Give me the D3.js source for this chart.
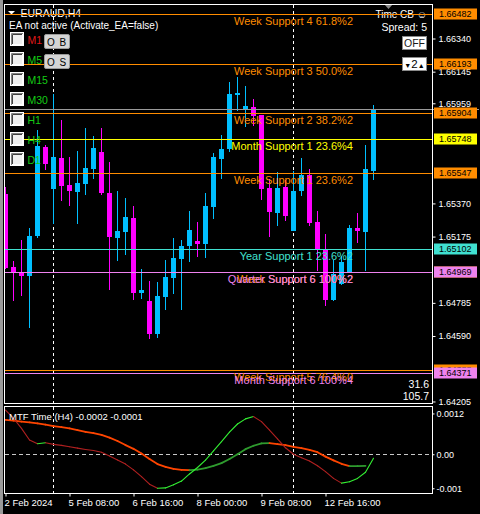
<!DOCTYPE html>
<html><head><meta charset="utf-8">
<script src="https://cdn.jsdelivr.net/npm/d3@7/dist/d3.min.js"></script>
<style>
html,body{margin:0;padding:0;background:#000;overflow:hidden}
svg{display:block}
text{font-family:"Liberation Sans",Arial,sans-serif}
</style></head><body>
<svg id="c" width="480" height="514"></svg>
<script>
// ---------------- DATA ----------------
const symbolTitle = "EURAUD,H4";
const barTimes = [
 "2024.02.02 00:00","2024.02.02 04:00","2024.02.02 08:00","2024.02.02 12:00","2024.02.02 16:00","2024.02.02 20:00",
 "2024.02.05 00:00","2024.02.05 04:00","2024.02.05 08:00","2024.02.05 12:00","2024.02.05 16:00","2024.02.05 20:00",
 "2024.02.06 00:00","2024.02.06 04:00","2024.02.06 08:00","2024.02.06 12:00","2024.02.06 16:00","2024.02.06 20:00",
 "2024.02.07 00:00","2024.02.07 04:00","2024.02.07 08:00","2024.02.07 12:00","2024.02.07 16:00","2024.02.07 20:00",
 "2024.02.08 00:00","2024.02.08 04:00","2024.02.08 08:00","2024.02.08 12:00","2024.02.08 16:00","2024.02.08 20:00",
 "2024.02.09 00:00","2024.02.09 04:00","2024.02.09 08:00","2024.02.09 12:00","2024.02.09 16:00","2024.02.09 20:00",
 "2024.02.12 00:00","2024.02.12 04:00","2024.02.12 08:00","2024.02.12 12:00","2024.02.12 16:00","2024.02.12 20:00",
 "2024.02.13 00:00","2024.02.13 04:00","2024.02.13 08:00","2024.02.13 12:00","2024.02.13 16:00"
];
const opens  = [1.65425,1.64996,1.64967,1.64943,1.65178,1.65702,1.65455,1.65637,1.65478,1.65437,1.65484,1.65572,1.65672,1.65431,1.65167,1.65202,1.65284,1.64843,1.64796,1.64602,1.64820,1.64931,1.65043,1.65120,1.65149,1.65131,1.65349,1.65631,1.65690,1.66008,1.65925,1.65937,1.65890,1.65461,1.65314,1.65467,1.65208,1.65443,1.65537,1.65261,1.65102,1.64802,1.64896,1.64967,1.65226,1.65202,1.65561];
const highs  = [1.65467,1.65031,1.65155,1.65226,1.65802,1.65714,1.66013,1.65861,1.65643,1.65678,1.65813,1.65766,1.65813,1.65614,1.65443,1.65402,1.65355,1.64984,1.64914,1.64908,1.65037,1.65167,1.65155,1.65325,1.65261,1.65431,1.65666,1.65772,1.66084,1.66113,1.66060,1.65984,1.65890,1.65514,1.65555,1.65508,1.65561,1.65637,1.65572,1.65325,1.65190,1.65037,1.65061,1.65243,1.65314,1.65714,1.65949];
const lows   = [1.64985,1.64796,1.64826,1.64638,1.65167,1.65567,1.65249,1.65384,1.65355,1.65249,1.65420,1.65514,1.65420,1.64861,1.65031,1.65067,1.64802,1.64808,1.64573,1.64579,1.64743,1.64837,1.64743,1.65025,1.65055,1.65049,1.65278,1.65514,1.65672,1.65913,1.65819,1.65825,1.65390,1.65173,1.65237,1.65267,1.65206,1.65414,1.65237,1.64973,1.64767,1.64796,1.64890,1.64965,1.65137,1.64973,1.65508];
const closes = [1.64990,1.64961,1.64943,1.65178,1.65708,1.65602,1.65643,1.65472,1.65443,1.65490,1.65578,1.65696,1.65431,1.65173,1.65208,1.65290,1.64843,1.64861,1.64602,1.64826,1.64937,1.65049,1.65120,1.65214,1.65131,1.65355,1.65643,1.65690,1.66013,1.66019,1.65943,1.65884,1.65455,1.65320,1.65461,1.65296,1.65443,1.65537,1.65255,1.65102,1.64802,1.64955,1.65025,1.65226,1.65208,1.65572,1.65925];
const bidPrice = 1.65925;

const levelNames  = ["Week Support 4 61.8%2","Week Support 3 50.0%2","Week Support 2 38.2%2","Month Support 1 23.6%4","Week Support 1 23.6%2","Year Support 1 23.6%2","Week Support 6 100%2","Quarter Support 6 100%2","Week Support 5 76.4%0","Month Support 6 100%4"];
const levelPrices = [1.66482,1.66193,1.65904,1.65748,1.65547,1.65102,1.64969,1.64969,1.64388,1.64371];

const priceTicks = [1.66340,1.66145,1.65959,1.65370,1.65175,1.64785,1.64590,1.64205];

const fastLine = [0.00130,0.00106,0.00076,0.00042,0.00031,0.00034,0.00029,0.00026,0.00022,0.00018,0.00014,0.00011,0.00006,-0.00005,-0.00017,-0.00029,-0.00046,-0.00066,-0.00088,-0.00100,-0.00099,-0.00090,-0.00079,-0.00058,-0.00039,-0.00017,0.00010,0.00037,0.00065,0.00089,0.00104,0.00111,0.00096,0.00071,0.00045,0.00019,0.00000,-0.00010,-0.00020,-0.00034,-0.00051,-0.00071,-0.00085,-0.00081,-0.00071,-0.00053,-0.00012];
const slowLine = [0.00101,0.00099,0.00096,0.00094,0.00091,0.00087,0.00083,0.00080,0.00076,0.00071,0.00066,0.00062,0.00057,0.00049,0.00039,0.00027,0.00016,0.00002,-0.00014,-0.00029,-0.00037,-0.00043,-0.00046,-0.00047,-0.00045,-0.00041,-0.00034,-0.00026,-0.00014,0.00000,0.00015,0.00025,0.00032,0.00033,0.00030,0.00027,0.00022,0.00018,0.00013,0.00006,-0.00007,-0.00018,-0.00028,-0.00035,-0.00035,-0.00034];
const oscTicks = [0.0012, 0, -0.001];
const oscTickLabels = ["0.0012","0.00","-0.001"];
const oscTitle = "MTF Time (H4) -0.0002 -0.0001";

const dateTickTimes  = ["2024.02.02 00:00","2024.02.05 08:00","2024.02.06 16:00","2024.02.08 00:00","2024.02.09 08:00","2024.02.12 16:00"];
const dateTickLabels = ["2 Feb 2024","5 Feb 08:00","6 Feb 16:00","8 Feb 00:00","9 Feb 08:00","12 Feb 16:00"];
const separatorTimes = ["2024.02.05 00:00","2024.02.12 00:00"];

const timeframes = ["M1","M5","M15","M30","H1","H4","D1"];
const buttonLabels = ["O B","O S"];
const infoTexts = ["EA not active (Activate_EA=false)","Time CB \u263A","Spread: 5"];
const cornerValues = ["31.6","105.7"];

// ---------------- STYLE ----------------
const BULL = "#00BFFF", BEAR = "#FF00FF";
const levelColor = {
  "Week": "#FF8C00", "Month Support 1": "#FFFF00", "Month Support 6": "#EE82EE",
  "Quarter": "#EE82EE", "Year": "#40E0D0"
};
function colorOf(name){
  for (const k of ["Month Support 1","Month Support 6","Week","Quarter","Year"]) if (name.startsWith(k)) return levelColor[k];
  return "#fff";
}

const svg = d3.select("#c");
svg.append("rect").attr("width",480).attr("height",514).attr("fill","#000");
svg.append("rect").attr("x",0).attr("y",0).attr("width",3).attr("height",514).attr("fill","#9a9a9a");

const defs = svg.append("defs");
defs.append("clipPath").attr("id","clipMain").append("rect").attr("x",5).attr("y",5).attr("width",427).attr("height",398);
defs.append("clipPath").attr("id","clipSub").append("rect").attr("x",5).attr("y",407).attr("width",427).attr("height",86);

// scales
const xs = d3.scalePoint().domain(barTimes).range([5.5, 373.5]);
const ys = d3.scaleLinear().domain([1.64196, 1.66543]).range([403, 4]);
const yo = d3.scaleLinear().domain([-0.00114, 0.00139]).range([493, 407]);

// separators
const gSep = svg.append("g");
separatorTimes.forEach(t=>{
  const x = xs(t);
  gSep.append("line").attr("x1",x).attr("x2",x).attr("y1",5).attr("y2",403)
    .attr("stroke","#fff").attr("stroke-dasharray","3,3");
  gSep.append("line").attr("x1",x).attr("x2",x).attr("y1",407).attr("y2",493)
    .attr("stroke","#fff").attr("stroke-dasharray","3,3");
});

// candles
const candles = barTimes.map((t,i)=>({t,o:opens[i],h:highs[i],l:lows[i],c:closes[i]}));
const gC = svg.append("g").attr("clip-path","url(#clipMain)");
gC.selectAll("rect.wick").data(candles).join("rect").attr("class","wick")
  .attr("x", d=>xs(d.t)-0.5).attr("width",1)
  .attr("y", d=>Math.round(ys(d.h)))
  .attr("height", d=>Math.max(1, Math.round(ys(d.l))-Math.round(ys(d.h))))
  .attr("fill", d=>d.c>=d.o?BULL:BEAR);
gC.selectAll("rect.body").data(candles).join("rect").attr("class","body")
  .attr("x", d=>xs(d.t)-2.5).attr("width",5)
  .attr("y", d=>Math.round(ys(Math.max(d.o,d.c))))
  .attr("height", d=>Math.max(2, Math.round(ys(Math.min(d.o,d.c)))-Math.round(ys(Math.max(d.o,d.c)))))
  .attr("fill", d=>d.c>=d.o?BULL:BEAR);

// top-left / top-right texts (under lines)
svg.append("path").attr("d","M8,11 L15,11 L11.5,14.5 Z").attr("fill","#fff");
svg.append("text").attr("x",20.5).attr("y",17).attr("font-size",10.5).attr("fill","#fff").text(symbolTitle);
svg.append("text").attr("x",9).attr("y",29).attr("font-size",10).attr("fill","#fff").text(infoTexts[0]);
svg.append("path").attr("d","M384,4 L393,4 L388.5,9 Z").attr("fill","#8a8a8a");
svg.append("text").attr("x",427).attr("y",17.5).attr("text-anchor","end").attr("font-size",10).attr("fill","#fff").text(infoTexts[1]);
svg.append("text").attr("x",427).attr("y",30.5).attr("text-anchor","end").attr("font-size",10.5).attr("fill","#fff").text(infoTexts[2]);

// bid line
const yb = Math.round(ys(bidPrice))+0.5;
svg.append("line").attr("x1",5).attr("x2",479).attr("y1",yb).attr("y2",yb).attr("stroke","#9a9a9a");

// level lines
const levels = levelNames.map((n,i)=>({n,p:levelPrices[i]}));
const gL = svg.append("g").attr("clip-path","url(#clipMain)");
levels.forEach(d=>{
  const y = Math.round(ys(d.p))+0.5;
  gL.append("line").attr("x1",5).attr("x2",432).attr("y1",y).attr("y2",y).attr("stroke",colorOf(d.n));
});
levels.forEach(d=>{
  const y = Math.round(ys(d.p));
  gL.append("text").attr("x",353).attr("y",y+11).attr("text-anchor","end")
    .attr("font-size",11).attr("fill",colorOf(d.n)).text(d.n);
});

// price axis
const axP = svg.append("g").attr("transform","translate(432.5,0)")
  .call(d3.axisRight(ys).tickValues(priceTicks).tickSize(3).tickPadding(3).tickFormat(d3.format(".5f")));
axP.select(".domain").remove();
axP.attr("color","#fff").attr("font-family","Liberation Sans, Arial, sans-serif").attr("font-size",9);

// price boxes
const gB = svg.append("g");
levels.forEach(d=>{
  const y = Math.round(ys(d.p));
  gB.append("rect").attr("x",434).attr("y",y-5.5).attr("width",43).attr("height",11).attr("fill",colorOf(d.n));
  gB.append("text").attr("x",439).attr("y",y).attr("dy","0.34em").attr("font-size",9).attr("fill","#000")
    .text(d3.format(".5f")(d.p));
});

// panel borders
svg.append("rect").attr("x",4.5).attr("y",4.5).attr("width",428).attr("height",399).attr("fill","none").attr("stroke","#fff");
svg.append("rect").attr("x",4.5).attr("y",406.5).attr("width",428).attr("height",87).attr("fill","none").attr("stroke","#fff");

// UI controls
timeframes.forEach((tf,i)=>{
  const y = 32 + i*20;
  svg.append("rect").attr("x",10).attr("y",y).attr("width",14).attr("height",14).attr("fill","#fff");
  svg.append("rect").attr("x",12).attr("y",y+2).attr("width",10).attr("height",10).attr("fill","#f0f0f0");
  svg.append("path").attr("d",`M11.5,${y+13} L11.5,${y+1.5} L23,${y+1.5}`).attr("stroke","#808080").attr("fill","none");
  svg.append("path").attr("d",`M12.5,${y+12} L12.5,${y+2.5} L22,${y+2.5}`).attr("stroke","#404040").attr("fill","none");
  svg.append("text").attr("x",27.5).attr("y",y+12).attr("font-size",10.5)
    .attr("fill", i===0 ? "#e01818" : "#14cc14").text(tf);
});
buttonLabels.forEach((b,i)=>{
  const y = 34.5 + i*20;
  svg.append("rect").attr("x",44.5).attr("y",y).attr("width",25).attr("height",14).attr("rx",1.5)
    .attr("fill","#d4d4d4").attr("stroke","#9a9a9a");
  svg.append("text").attr("x",57).attr("y",y+11).attr("text-anchor","middle").attr("font-size",10)
    .attr("letter-spacing",1).attr("fill","#000").text(b);
});
svg.append("rect").attr("x",402.5).attr("y",36.5).attr("width",24).attr("height",13).attr("fill","#fff").attr("stroke","#8a8a8a");
svg.append("text").attr("x",414.5).attr("y",47).attr("text-anchor","middle").attr("font-size",10.5).attr("fill","#1a1a1a").text("OFF");
svg.append("rect").attr("x",402.5).attr("y",57.5).attr("width",24).attr("height",13).attr("fill","#fff").attr("stroke","#8a8a8a");
const sp = svg.append("text").attr("x",414.5).attr("y",68).attr("text-anchor","middle").attr("fill","#000");
sp.append("tspan").attr("font-size",7).text("\u25BC");
sp.append("tspan").attr("font-size",11.5).text("2");
sp.append("tspan").attr("font-size",7).text("\u25B2");

svg.append("text").attr("x",429).attr("y",387.5).attr("text-anchor","end").attr("font-size",10.5).attr("fill","#fff").text(cornerValues[0]);
svg.append("text").attr("x",429).attr("y",400).attr("text-anchor","end").attr("font-size",10.5).attr("fill","#fff").text(cornerValues[1]);

// ---------- oscillator sub-window ----------
const gO = svg.append("g").attr("clip-path","url(#clipSub)");
const y0 = Math.round(yo(0))+0.5;
gO.append("line").attr("x1",5).attr("x2",432).attr("y1",y0).attr("y2",y0).attr("stroke","#c8c8c8").attr("stroke-dasharray","4,3");
function drawSeg(vals, up, down, w){
  for (let i=1;i<vals.length;i++){
    gO.append("line")
      .attr("x1",xs(barTimes[i-1])).attr("y1",yo(vals[i-1]))
      .attr("x2",xs(barTimes[i])).attr("y2",yo(vals[i]))
      .attr("stroke", vals[i]>=vals[i-1]?up:down).attr("stroke-width",w).attr("stroke-linecap","round");
  }
}
drawSeg(slowLine, "#2E9B2E", "#FF4500", 1.8);
drawSeg(fastLine, "#33EE33", "#B02020", 1.1);
svg.append("text").attr("x",9).attr("y",419.5).attr("font-size",9.5).attr("fill","#fff").text(oscTitle);

const axO = svg.append("g").attr("transform","translate(432.5,0)")
  .call(d3.axisRight(yo).tickValues(oscTicks).tickSize(2).tickPadding(2).tickFormat((d,i)=>oscTickLabels[i]));
axO.select(".domain").remove();
axO.attr("color","#fff").attr("font-family","Liberation Sans, Arial, sans-serif").attr("font-size",9);

// date axis
const axD = svg.append("g").attr("transform","translate(0,493.5)")
  .call(d3.axisBottom(xs).tickValues(dateTickTimes).tickSize(3).tickPadding(3).tickFormat((d,i)=>dateTickLabels[i]));
axD.select(".domain").remove();
axD.attr("color","#fff").attr("font-family","Liberation Sans, Arial, sans-serif").attr("font-size",9.5);
axD.selectAll("text").attr("text-anchor","start").attr("x",-1.5);
</script>
</body></html>
